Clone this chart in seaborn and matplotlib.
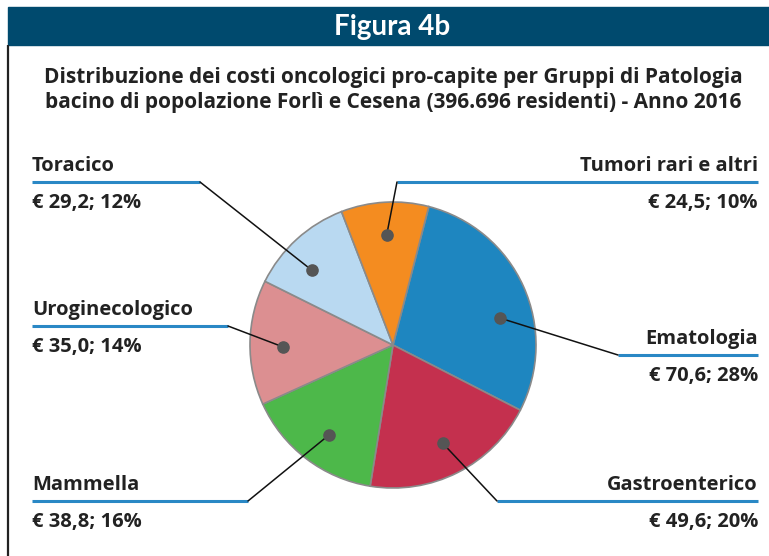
import matplotlib
matplotlib.use("Agg")
import matplotlib.pyplot as plt
import seaborn as sns
import numpy as np

# data
categories = ["Ematologia", "Gastroenterico", "Mammella",
              "Uroginecologico", "Toracico", "Tumori rari e altri"]
costs = [70.6, 49.6, 38.8, 35.0, 29.2, 24.5]
percents = [28, 20, 16, 14, 12, 10]
colors = ["#1e86c0", "#c4304e", "#4db84a", "#dc8f91", "#b9d9f1", "#f48c20"]

title = ("Distribuzione dei costi oncologici pro-capite per Gruppi di Patologia\n"
         "bacino di popolazione Forlì e Cesena (396.696 residenti) - Anno 2016")

# label layout (pixel coords): side, y of underline, x of underline inner end, dot angle shift
layout = {
    "Ematologia": ("right", 355, 618, -10),
    "Gastroenterico": ("right", 501, 497, 0),
    "Mammella": ("left", 501, 248, 2),
    "Uroginecologico": ("left", 326, 228, 2),
    "Toracico": ("left", 182, 200, 5),
    "Tumori rari e altri": ("right", 182, 397, 0),
}

sns.set_style("white")
plt.rcParams["font.family"] = ["Open Sans", "DejaVu Sans"]

W, H = 769, 556
fig = plt.figure(figsize=(W / 100, H / 100), dpi=100)

# pie
cx, cy, r = 393, 345, 143
ax_pie = fig.add_axes([(cx - r) / W, (H - cy - r) / H, 2 * r / W, 2 * r / H])
wedges, _ = ax_pie.pie(costs, colors=colors, startangle=75.5, counterclock=False,
                       radius=1, wedgeprops=dict(edgecolor="#8a8a8a", linewidth=1.2))
for w in wedges:
    w.set_clip_on(False)
ax_pie.set_xlim(-1, 1)
ax_pie.set_ylim(-1, 1)
ax_pie.axis("off")

# overlay in pixel coordinates
ov = fig.add_axes([0, 0, 1, 1], zorder=5)
ov.set_xlim(0, W)
ov.set_ylim(H, 0)
ov.axis("off")
ov.patch.set_alpha(0)

# frame
ov.add_patch(plt.Rectangle((8, 7), W - 8, 38, color="#004a6e", zorder=1))
ov.plot([8, 8], [45, H], color="#222222", lw=1.6, solid_capstyle="butt")
ov.text(392, 27, "Figura 4b", color="white", fontsize=20, fontweight="bold",
        ha="center", va="center", family=["Lato", "DejaVu Sans"])
ov.text(393, 90, title, fontsize=15, fontweight="bold", ha="center",
        va="center", color="#222222", linespacing=1.2)

to_ov = ov.transData.inverted()
for w, cat, cost, pct in zip(wedges, categories, costs, percents):
    side, uy, ux, shift = layout[cat]
    mid = np.deg2rad((w.theta1 + w.theta2) / 2 + shift)
    dx, dy = to_ov.transform(ax_pie.transData.transform((0.77 * np.cos(mid), 0.77 * np.sin(mid))))
    if side == "left":
        x0, x1, tx, ha = 32, ux, 32, "left"
    else:
        x0, x1, tx, ha = ux, 758, 758, "right"
    ov.plot([x0, x1], [uy, uy], color="#2a88c5", lw=2.2, solid_capstyle="butt")
    ov.plot([ux, dx], [uy, dy], color="#111111", lw=1.1)
    ov.scatter([dx], [dy], s=65, color="#555555", zorder=6)
    ov.text(tx, uy - 11, cat, fontsize=14.5, fontweight="bold", ha=ha,
            va="baseline", color="#222222")
    ov.text(tx, uy + 26, f"€ {cost:.1f}; {pct}%".replace(".", ","), fontsize=14.5,
            fontweight="bold", ha=ha, va="baseline", color="#222222")

fig.savefig("out.png", dpi=100)
